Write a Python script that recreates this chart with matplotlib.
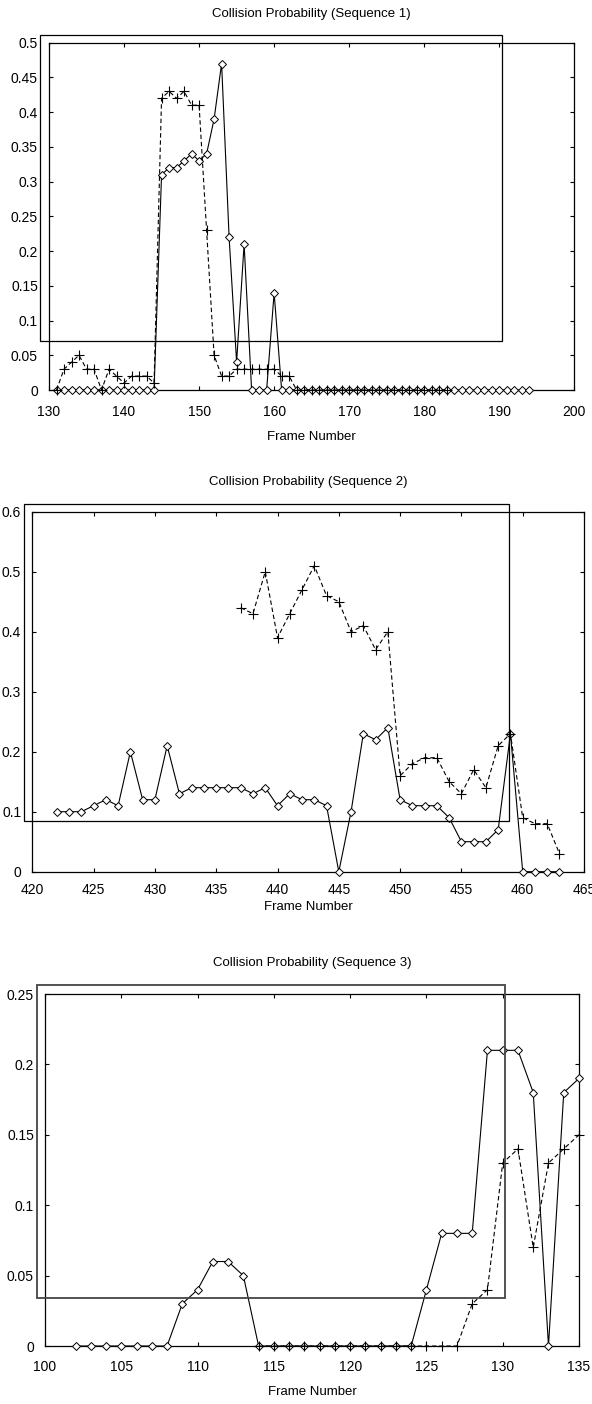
import matplotlib
matplotlib.use("Agg")
import matplotlib.pyplot as plt
from matplotlib.patches import Rectangle

plt.rcParams['font.family'] = ['Liberation Sans', 'DejaVu Sans']

# ---------------- data ----------------
# Sequence 1
s1_diam_x = list(range(131, 195))
s1_diam_y = ([0] * 14 +
             [0.31, 0.32, 0.32, 0.33, 0.34, 0.33, 0.34, 0.39, 0.47, 0.22, 0.04, 0.21,
              0, 0, 0, 0.14] +
             [0] * 34)
s1_plus_x = list(range(131, 184))
s1_plus_y = ([0, 0.03, 0.04, 0.05, 0.03, 0.03, 0, 0.03, 0.02, 0.01, 0.02, 0.02, 0.02, 0.01,
              0.42, 0.43, 0.42, 0.43, 0.41, 0.41, 0.23, 0.05, 0.02, 0.02,
              0.03, 0.03, 0.03, 0.03, 0.03, 0.03, 0.02, 0.02] +
             [0] * 21)
s1_xticks = [130, 140, 150, 160, 170, 180, 190, 200]
s1_yticks = [0, 0.05, 0.1, 0.15, 0.2, 0.25, 0.3, 0.35, 0.4, 0.45, 0.5]
s1_ylabels = ['0', '0.05', '0.1', '0.15', '0.2', '0.25', '0.3', '0.35', '0.4', '0.45', '0.5']

# Sequence 2
s2_diam_x = list(range(422, 464))
s2_diam_y = [0.10, 0.10, 0.10, 0.11, 0.12, 0.11, 0.20, 0.12, 0.12, 0.21,
             0.13, 0.14, 0.14, 0.14, 0.14, 0.14, 0.13, 0.14, 0.11, 0.13,
             0.12, 0.12, 0.11, 0.0, 0.10, 0.23, 0.22, 0.24, 0.12, 0.11,
             0.11, 0.11, 0.09, 0.05, 0.05, 0.05, 0.07, 0.23, 0.0, 0.0,
             0.0, 0.0]
s2_plus_x = list(range(437, 464))
s2_plus_y = [0.44, 0.43, 0.50, 0.39, 0.43, 0.47, 0.51, 0.46, 0.45, 0.40,
             0.41, 0.37, 0.40, 0.16, 0.18, 0.19, 0.19, 0.15, 0.13, 0.17,
             0.14, 0.21, 0.23, 0.09, 0.08, 0.08, 0.03]
s2_xticks = [420, 425, 430, 435, 440, 445, 450, 455, 460, 465]
s2_yticks = [0, 0.1, 0.2, 0.3, 0.4, 0.5, 0.6]
s2_ylabels = ['0', '0.1', '0.2', '0.3', '0.4', '0.5', '0.6']

# Sequence 3
s3_diam_x = list(range(102, 136))
s3_diam_y = ([0] * 7 +
             [0.03, 0.04, 0.06, 0.06, 0.05] +
             [0] * 11 +
             [0.04, 0.08, 0.08, 0.08, 0.21, 0.21, 0.21, 0.18, 0.0, 0.18, 0.19])
s3_plus_x = list(range(114, 136))
s3_plus_y = ([0] * 14 +
             [0.03, 0.04, 0.13, 0.14, 0.07, 0.13, 0.14, 0.15])
s3_xticks = [100, 105, 110, 115, 120, 125, 130, 135]
s3_yticks = [0, 0.05, 0.1, 0.15, 0.2, 0.25]
s3_ylabels = ['0', '0.05', '0.1', '0.15', '0.2', '0.25']

titles = ['Collision Probability (Sequence 1)',
          'Collision Probability (Sequence 2)',
          'Collision Probability (Sequence 3)']
xlabel = 'Frame Number'

# ---------------- figure ----------------
W, H = 592, 1404
fig = plt.figure(figsize=(W / 100, H / 100), dpi=100)


def px_rect(l, t, r, b):
    return [l / W, 1 - b / H, (r - l) / W, (b - t) / H]


panels = [
    dict(ax=(49, 42.7, 574.3, 390), box=(40.3, 35.3, 502.3, 341), boxc='black', boxlw=0.9,
         dx=s1_diam_x, dy=s1_diam_y, px=s1_plus_x, py=s1_plus_y,
         xlim=(130, 200), ylim=(0, 0.5), xt=s1_xticks, yt=s1_yticks, yl=s1_ylabels,
         title_y=14, xlabel_y=437, xpad=11),
    dict(ax=(32.3, 511.7, 584, 871.7), box=(24.3, 504, 509.3, 820.7), boxc='black', boxlw=0.9,
         dx=s2_diam_x, dy=s2_diam_y, px=s2_plus_x, py=s2_plus_y,
         xlim=(420, 465), ylim=(0, 0.6), xt=s2_xticks, yt=s2_yticks, yl=s2_ylabels,
         title_y=482, xlabel_y=907, xpad=8),
    dict(ax=(45, 994, 579, 1346), box=(36.7, 985.3, 505, 1297.7), boxc='#444444', boxlw=1.3,
         dx=s3_diam_x, dy=s3_diam_y, px=s3_plus_x, py=s3_plus_y,
         xlim=(100, 135), ylim=(0, 0.25), xt=s3_xticks, yt=s3_yticks, yl=s3_ylabels,
         title_y=963, xlabel_y=1392, xpad=10),
]

for i, p in enumerate(panels):
    ax = fig.add_axes(px_rect(*p['ax']))
    ax.plot(p['dx'], p['dy'], '-', color='black', lw=0.8, marker='D', ms=4.3,
            mfc='white', mec='black', mew=0.7, clip_on=False, zorder=3)
    ax.plot(p['px'], p['py'], '--', color='black', lw=0.8, dashes=(4, 2.5), marker='+',
            ms=7, mew=0.8, clip_on=False, zorder=4)
    ax.set_xlim(*p['xlim'])
    ax.set_ylim(*p['ylim'])
    ax.set_xticks(p['xt'])
    ax.set_xticklabels([str(v) for v in p['xt']])
    ax.set_yticks(p['yt'])
    ax.set_yticklabels(p['yl'])
    ax.tick_params(direction='in', length=3, width=0.8, top=True, right=True,
                   labelsize=10, colors='black')
    ax.tick_params(axis='x', pad=p['xpad'])
    ax.tick_params(axis='y', pad=8)
    for s in ax.spines.values():
        s.set_linewidth(0.9)
        s.set_color('black')
    cx = (p['ax'][0] + p['ax'][2]) / 2 / W
    fig.text(cx, 1 - p['title_y'] / H, titles[i], ha='center', va='center', fontsize=9.5)
    fig.text(cx, 1 - p['xlabel_y'] / H, xlabel, ha='center', va='center', fontsize=9.5)
    l, t, r, b = p['box']
    fig.patches.append(Rectangle((l / W, 1 - b / H), (r - l) / W, (b - t) / H,
                                 transform=fig.transFigure, fill=False,
                                 edgecolor=p['boxc'], lw=p['boxlw'], zorder=5))

fig.savefig('out.png', dpi=100)
